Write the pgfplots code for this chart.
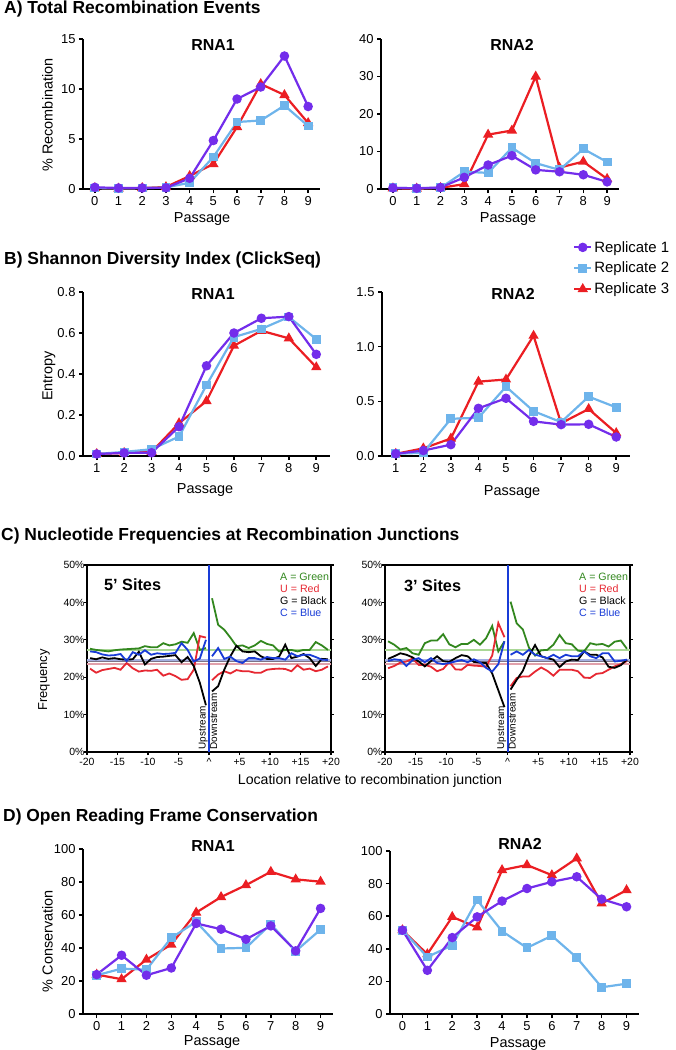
\documentclass[border=0pt]{standalone}
\usepackage{pgfplots}
\pgfplotsset{compat=1.18}
\usepackage{pgfplotstable}
\usepackage{fontspec}
\setmainfont{Liberation Sans}
\definecolor{cP}{RGB}{115,45,235}
\definecolor{cB}{RGB}{110,180,235}
\definecolor{cR}{RGB}{235,30,35}
\definecolor{nG}{RGB}{50,135,30}
\definecolor{nR}{RGB}{230,40,50}
\definecolor{nB}{RGB}{25,60,215}
\definecolor{refG}{RGB}{170,215,150}
\definecolor{refB}{RGB}{165,175,225}
\definecolor{refR}{RGB}{225,160,170}
\definecolor{refK}{RGB}{125,115,135}
\newcommand{\fs}[1]{\fontsize{#1}{#1}\selectfont}

\pgfplotsset{
  lc/.style={
    scale only axis, anchor=south west,
    axis lines=left, axis line style={-, line width=2.2bp},
    tick style={line width=1.6bp, black}, tick align=outside,
    major tick length=4bp,
    ymin=0, clip=false,
    tick label style={font=\fs{13}},
    /pgf/number format/assume math mode=true,
  },
  r1/.style={cP, line width=2.2bp, mark=*, mark size=3.6bp, mark options={solid, fill=cP}},
  r2/.style={cB, line width=2.2bp, mark=square*, mark size=3.3bp, mark options={solid, fill=cB}},
  r3/.style={cR, line width=2.2bp, mark=triangle*, mark size=3.8bp, mark options={solid, fill=cR}},
  nc/.style={
    scale only axis, anchor=south west,
    xmin=-20, xmax=20, ymin=0, ymax=50,
    axis line style={line width=2bp},
    tick style={line width=1.2bp, black}, tick align=outside, major tick length=3bp,
    xtick={-20,-15,...,20},
    xticklabels={-20,-15,-10,-5,\textasciicircum,+5,+10,+15,+20},
    ytick={0,10,...,50},
    yticklabels={0\%,10\%,20\%,30\%,40\%,50\%},
    xtick pos=left,
    tick label style={font=\fs{10.5}},
    yticklabel style={xshift=4bp},
    /pgf/number format/assume math mode=true,
  },
  ln/.style={line width=1.8bp, mark=none},
}

% Panel C data: position, A, U, G, C
\pgfplotstableread{
x A U G C
-19.5 27.6 22.3 25.1 26.9
-18.5 27.3 21.2 24.8 26.7
-17.5 27.1 21.9 25.3 26.1
-16.5 26.9 22.2 24.9 25.8
-15.5 27.2 22.5 25.1 25.9
-14.5 27.4 22.0 24.8 26.2
-13.5 27.5 23.8 24.7 24.3
-12.5 27.6 22.4 24.8 26.7
-11.5 27.7 21.5 26.8 26.0
-10.5 28.3 21.8 23.4 27.2
-9.5 28.0 21.7 24.9 26.0
-8.5 28.0 22.0 25.4 26.4
-7.5 29.1 20.4 25.5 26.2
-6.5 28.5 21.0 25.7 26.3
-5.5 28.8 20.3 25.9 26.5
-4.5 29.5 19.3 24.0 29.1
-3.5 29.2 19.5 25.4 27.3
-2.5 31.8 22.0 23.0 24.2
-1.5 27.3 31.0 18.5 25.0
-0.5 27.8 30.6 12.5 30.0
}\fiveUp
\pgfplotstableread{
x A U G C
0.5 41.1 19.2 16.2 25.6
1.5 34.0 20.7 17.6 27.8
2.5 32.7 21.6 22.0 24.9
3.5 30.6 21.0 25.6 25.5
4.5 28.3 21.9 28.4 24.3
5.5 28.5 21.6 26.9 23.8
6.5 27.8 21.6 26.7 25.1
7.5 28.5 21.2 26.9 25.1
8.5 29.7 21.2 25.6 24.7
9.5 28.9 22.0 24.9 25.4
10.5 28.5 22.2 24.9 25.1
11.5 26.9 22.3 25.5 25.1
12.5 27.3 22.2 28.7 24.7
13.5 27.3 21.6 25.1 26.4
14.5 26.9 23.2 25.5 25.6
15.5 27.3 22.0 26.2 26.0
16.5 27.3 22.3 25.1 26.0
17.5 29.4 21.6 23.0 25.4
18.5 28.5 22.0 24.9 24.7
19.5 27.3 22.9 24.8 24.6
}\fiveDown
\pgfplotstableread{
x A U G C
-19.5 29.6 22.4 24.9 24.3
-18.5 28.7 23.0 25.6 24.8
-17.5 27.4 23.9 26.4 24.6
-16.5 27.8 24.2 26.0 23.0
-15.5 26.4 25.0 25.3 24.6
-14.5 26.0 23.3 24.2 25.1
-13.5 29.1 23.3 22.9 24.0
-12.5 29.8 22.8 24.3 25.1
-11.5 29.8 21.6 25.6 23.8
-10.5 31.5 22.2 24.3 23.5
-9.5 28.8 24.1 24.1 23.8
-8.5 28.0 22.1 25.1 24.2
-7.5 28.9 22.0 25.9 24.6
-6.5 28.9 23.3 25.6 24.0
-5.5 30.0 23.1 24.1 24.8
-4.5 28.7 23.0 23.9 24.0
-3.5 30.4 22.8 23.8 22.5
-2.5 33.7 25.8 21.0 21.5
-1.5 26.9 34.5 16.5 23.5
-0.5 29.6 30.7 12.0 29.6
}\threeUp
\pgfplotstableread{
x A U G C
0.5 40.2 17.6 16.7 26.0
1.5 34.4 19.8 19.3 26.9
2.5 32.8 20.2 21.7 26.0
3.5 27.9 20.2 25.7 27.3
4.5 25.8 21.5 28.6 26.0
5.5 27.2 22.6 25.6 25.6
6.5 27.3 21.7 25.1 25.1
7.5 28.7 20.4 24.7 26.0
8.5 31.3 22.0 22.7 25.1
9.5 29.1 22.0 24.2 26.0
10.5 28.8 22.0 24.7 25.6
11.5 27.1 21.6 24.6 25.6
12.5 26.9 19.9 26.9 26.9
13.5 29.1 19.8 26.0 25.6
14.5 28.7 20.9 26.0 25.1
15.5 28.9 21.1 25.3 26.4
16.5 28.2 22.0 22.8 26.4
17.5 29.5 22.9 22.5 24.2
18.5 29.8 23.5 23.2 24.4
19.5 27.6 24.3 24.7 24.7
}\threeDown

\begin{document}
\begin{tikzpicture}
\useasboundingbox (0,0) rectangle (676bp,-1050bp);

% ---------- panel titles ----------
\node[anchor=base west, font=\bfseries\fs{17.5}, inner sep=0] at (4bp,-13.3bp) {A) Total Recombination Events};
\node[anchor=base west, font=\bfseries\fs{17.5}, inner sep=0] at (4bp,-264.5bp) {B) Shannon Diversity Index (ClickSeq)};
\node[anchor=base west, font=\bfseries\fs{17.5}, inner sep=0] at (1bp,-540.5bp) {C) Nucleotide Frequencies at Recombination Junctions};
\node[anchor=base west, font=\bfseries\fs{17.5}, inner sep=0] at (3bp,-821.5bp) {D) Open Reading Frame Conservation};

% ---------- A RNA1 ----------
\begin{axis}[lc, at={(83bp,-189bp)}, width=237bp, height=150bp, xmin=-0.5, xmax=9.5, ymax=15, xtick={0,...,9}, ytick={0,5,10,15}]
\addplot[r3] coordinates {(0,0.1)(1,0.05)(2,0.1)(3,0.2)(4,1.3)(5,2.5)(6,6.2)(7,10.5)(8,9.4)(9,6.6)};
\addplot[r2] coordinates {(0,0.1)(1,0.05)(2,0.1)(3,0.15)(4,0.63)(5,3.2)(6,6.7)(7,6.85)(8,8.35)(9,6.3)};
\addplot[r1] coordinates {(0,0.17)(1,0.1)(2,0.1)(3,0.12)(4,1.07)(5,4.85)(6,9.0)(7,10.2)(8,13.3)(9,8.25)};
\end{axis}
% ---------- A RNA2 ----------
\begin{axis}[lc, at={(381bp,-189bp)}, width=238bp, height=150bp, xmin=-0.5, xmax=9.5, ymax=40, xtick={0,...,9}, ytick={0,10,20,30,40}]
\addplot[r3] coordinates {(0,0.2)(1,0.1)(2,0.3)(3,1.3)(4,14.5)(5,15.6)(6,30.0)(7,5.7)(8,7.3)(9,2.7)};
\addplot[r2] coordinates {(0,0.3)(1,0.2)(2,0.3)(3,4.6)(4,4.3)(5,11.0)(6,6.9)(7,5.1)(8,10.7)(9,7.2)};
\addplot[r1] coordinates {(0,0.3)(1,0.2)(2,0.4)(3,3.1)(4,6.4)(5,8.9)(6,5.1)(7,4.6)(8,3.8)(9,1.9)};
\end{axis}

% ---------- B RNA1 ----------
\begin{axis}[lc, at={(83bp,-456bp)}, width=247bp, height=164bp, xmin=0.5, xmax=9.5, ymax=0.8, xtick={1,...,9}, ytick={0,0.2,0.4,0.6,0.8},
  yticklabel style={/pgf/number format/.cd, fixed, fixed zerofill, precision=1}]
\addplot[r3] coordinates {(1,0.01)(2,0.015)(3,0.02)(4,0.16)(5,0.268)(6,0.538)(7,0.611)(8,0.574)(9,0.433)};
\addplot[r2] coordinates {(1,0.01)(2,0.02)(3,0.033)(4,0.095)(5,0.346)(6,0.58)(7,0.62)(8,0.678)(9,0.57)};
\addplot[r1] coordinates {(1,0.01)(2,0.015)(3,0.016)(4,0.143)(5,0.44)(6,0.60)(7,0.672)(8,0.68)(9,0.496)};
\end{axis}
% ---------- B RNA2 ----------
\begin{axis}[lc, at={(382bp,-456bp)}, width=248bp, height=164bp, xmin=0.5, xmax=9.5, ymax=1.5, xtick={1,...,9}, ytick={0,0.5,1,1.5},
  yticklabel style={/pgf/number format/.cd, fixed, fixed zerofill, precision=1},
  legend style={at={(axis description cs:0.77,1.323)}, anchor=north west, draw=none, fill=none, font=\fs{15}, row sep=4.5bp, inner sep=0pt},
  legend cell align=left]
\addlegendimage{r1}\addlegendentry{Replicate 1}
\addlegendimage{r2}\addlegendentry{Replicate 2}
\addlegendimage{r3}\addlegendentry{Replicate 3}
\addplot[r3, forget plot] coordinates {(1,0.02)(2,0.07)(3,0.16)(4,0.68)(5,0.70)(6,1.10)(7,0.30)(8,0.43)(9,0.21)};
\addplot[r2, forget plot] coordinates {(1,0.02)(2,0.03)(3,0.34)(4,0.35)(5,0.634)(6,0.41)(7,0.31)(8,0.543)(9,0.445)};
\addplot[r1, forget plot] coordinates {(1,0.02)(2,0.05)(3,0.104)(4,0.436)(5,0.528)(6,0.317)(7,0.287)(8,0.29)(9,0.174)};
\end{axis}

% ---------- C 5' sites ----------
\begin{axis}[nc, at={(87bp,-752bp)}, width=244bp, height=187bp]
\addplot[refB, line width=3bp] coordinates {(-20,24.6)(20,24.6)};
\addplot[refR, line width=2bp] coordinates {(-20,23.6)(20,23.6)};
\addplot[refK, line width=1.2bp] coordinates {(-20,24.1)(20,24.1)};
\addplot[refG, line width=2bp] coordinates {(-20,27.3)(20,27.3)};
\addplot[ln, nG] table[x=x, y=A] {\fiveUp};
\addplot[ln, nR] table[x=x, y=U] {\fiveUp};
\addplot[ln, black] table[x=x, y=G] {\fiveUp};
\addplot[ln, nB] table[x=x, y=C] {\fiveUp};
\addplot[ln, nG] table[x=x, y=A] {\fiveDown};
\addplot[ln, nR] table[x=x, y=U] {\fiveDown};
\addplot[ln, black] table[x=x, y=G] {\fiveDown};
\addplot[ln, nB] table[x=x, y=C] {\fiveDown};
\addplot[nB, line width=2bp] coordinates {(0,0)(0,50)};
\node[rotate=90, anchor=south west, font=\fs{10}, inner sep=1bp] at (axis cs:0,0.4) {Upstream};
\node[rotate=90, anchor=north west, font=\fs{10}, inner sep=1bp] at (axis cs:0,0.4) {Downstream};
\end{axis}
% ---------- C 3' sites ----------
\begin{axis}[nc, at={(385bp,-752bp)}, width=245bp, height=187bp]
\addplot[refB, line width=3bp] coordinates {(-20,24.6)(20,24.6)};
\addplot[refR, line width=2bp] coordinates {(-20,23.6)(20,23.6)};
\addplot[refK, line width=1.2bp] coordinates {(-20,24.1)(20,24.1)};
\addplot[refG, line width=2bp] coordinates {(-20,27.3)(20,27.3)};
\addplot[ln, nG] table[x=x, y=A] {\threeUp};
\addplot[ln, nR] table[x=x, y=U] {\threeUp};
\addplot[ln, black] table[x=x, y=G] {\threeUp};
\addplot[ln, nB] table[x=x, y=C] {\threeUp};
\addplot[ln, nG] table[x=x, y=A] {\threeDown};
\addplot[ln, nR] table[x=x, y=U] {\threeDown};
\addplot[ln, black] table[x=x, y=G] {\threeDown};
\addplot[ln, nB] table[x=x, y=C] {\threeDown};
\addplot[nB, line width=2bp] coordinates {(0,0)(0,50)};
\node[rotate=90, anchor=south west, font=\fs{10}, inner sep=1bp] at (axis cs:0,0.4) {Upstream};
\node[rotate=90, anchor=north west, font=\fs{10}, inner sep=1bp] at (axis cs:0,0.4) {Downstream};
\end{axis}

% ---------- D RNA1 ----------
\begin{axis}[lc, at={(83bp,-1014bp)}, width=250bp, height=165bp, xmin=-0.55, xmax=9.5, ymax=100, xtick={0,...,9}, ytick={0,20,...,100}]
\addplot[r3] coordinates {(0,23.9)(1,21.1)(2,33.0)(3,42.1)(4,61.5)(5,70.9)(6,78.1)(7,86.2)(8,81.6)(9,80.2)};
\addplot[r2] coordinates {(0,23.5)(1,27.5)(2,26.9)(3,46.2)(4,55.9)(5,39.7)(6,40.1)(7,54.5)(8,38.1)(9,51.2)};
\addplot[r1] coordinates {(0,23.9)(1,35.6)(2,23.5)(3,27.9)(4,54.9)(5,51.4)(6,45.3)(7,53.4)(8,38.3)(9,64.0)};
\end{axis}
% ---------- D RNA2 ----------
\begin{axis}[lc, at={(390bp,-1014bp)}, width=249bp, height=163bp, xmin=-0.5, xmax=9.5, ymax=100, xtick={0,...,9}, ytick={0,20,...,100}]
\addplot[r3] coordinates {(0,51.4)(1,36.7)(2,59.6)(3,53.1)(4,88.3)(5,91.4)(6,85.2)(7,95.5)(8,67.8)(9,76.0)};
\addplot[r2] coordinates {(0,51.4)(1,35.0)(2,42.2)(3,69.9)(4,50.8)(5,40.6)(6,48.0)(7,34.6)(8,16.4)(9,18.6)};
\addplot[r1] coordinates {(0,51.4)(1,26.8)(2,46.9)(3,59.6)(4,69.3)(5,77.0)(6,81.1)(7,84.2)(8,70.5)(9,65.8)};
\end{axis}

% ---------- chart titles ----------
\foreach \cx/\by/\t in {213/50/RNA1, 512/50/RNA2, 213/299.3/RNA1, 513/299.3/RNA2, 213/851/RNA1, 520/849/RNA2}
  \node[anchor=base, font=\bfseries\fs{16}, inner sep=0] at (\cx bp,-\by bp) {\t};

% ---------- axis labels ----------
\foreach \cx/\by in {202/222, 508/222, 205/493.7, 512/495.5, 212/1045.5, 518/1047}
  \node[anchor=base, font=\fs{14.5}, inner sep=0] at (\cx bp,-\by bp) {Passage};
\node[rotate=90, font=\fs{14.5}, inner sep=0] at (47.5bp,-115bp) {\% Recombination};
\node[rotate=90, font=\fs{14.5}, inner sep=0] at (49bp,-376bp) {Entropy};
\node[rotate=90, font=\fs{14.5}, inner sep=0] at (47.5bp,-941bp) {\% Conservation};
\node[rotate=90, font=\fs{13}, inner sep=0] at (44bp,-680bp) {Frequency};
\node[anchor=base, font=\fs{14.2}, inner sep=0] at (370bp,-784bp) {Location relative to recombination junction};

% ---------- C inner texts ----------
\node[anchor=base west, font=\bfseries\fs{16.3}, inner sep=0] at (104bp,-590bp) {5’ Sites};
\node[anchor=base west, font=\bfseries\fs{16.3}, inner sep=0] at (404bp,-591bp) {3’ Sites};
\foreach \lx in {280, 579} {
  \node[anchor=west, font=\fs{10.7}, inner sep=0, text=nG] at (\lx bp,-577bp) {A = Green};
  \node[anchor=west, font=\fs{10.7}, inner sep=0, text=nR] at (\lx bp,-589bp) {U = Red};
  \node[anchor=west, font=\fs{10.7}, inner sep=0, text=black] at (\lx bp,-601bp) {G = Black};
  \node[anchor=west, font=\fs{10.7}, inner sep=0, text=nB] at (\lx bp,-613bp) {C = Blue};
}
\end{tikzpicture}
\end{document}
